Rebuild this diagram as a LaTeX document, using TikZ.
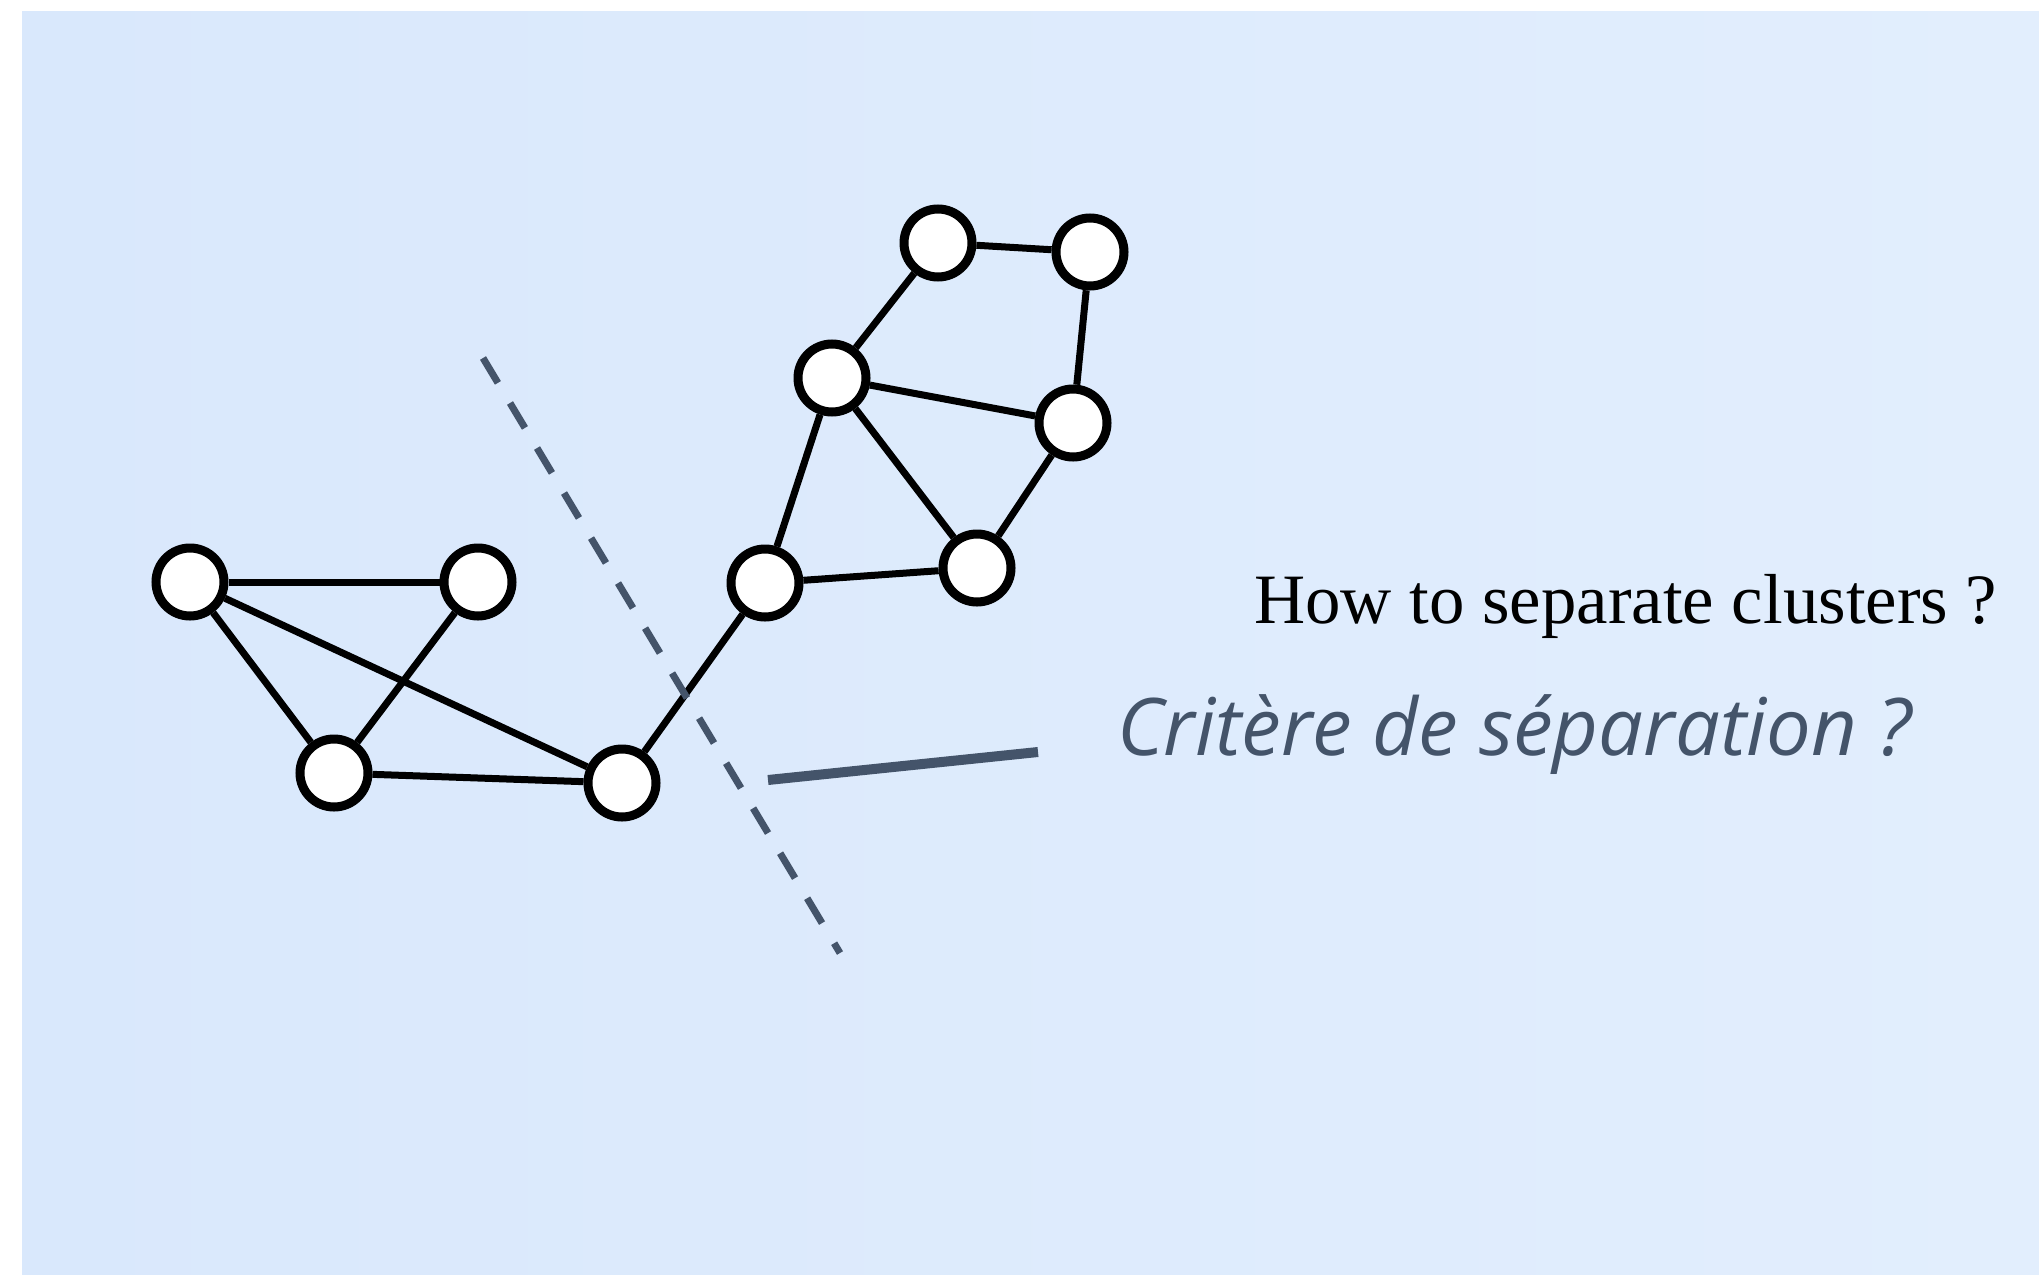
\documentclass[tikz,border=0pt]{standalone}
\usepackage{fontspec}
\newfontfamily\titlefont{Liberation Serif}
\newfontfamily\notefont{Open Sans}
\definecolor{slate}{HTML}{44546A}
\definecolor{skyleft}{HTML}{D9E8FC}
\definecolor{skyright}{HTML}{E2EEFD}
\begin{document}
\begin{tikzpicture}[x=1pt,y=-1pt,
  vertex/.style={circle,draw,line width=9pt,fill=white,minimum size=68pt,inner sep=0pt},
  link/.style={line width=7pt}]
\useasboundingbox (0,0) rectangle (2039,1274);
\shade[left color=skyleft,right color=skyright] (22,11) rectangle (2039,1274);
% first cluster
\node[vertex] (a) at (190,582) {};
\node[vertex] (b) at (478,582) {};
\node[vertex] (c) at (334,773) {};
\node[vertex] (d) at (622,783) {};
% second cluster
\node[vertex] (e) at (765,583) {};
\node[vertex] (f) at (977,568) {};
\node[vertex] (g) at (832,378) {};
\node[vertex] (h) at (1073,423) {};
\node[vertex] (i) at (938,243) {};
\node[vertex] (j) at (1090,252) {};
\foreach \u/\v in {a/b,a/c,a/d,b/c,c/d,d/e,e/g,e/f,g/i,g/h,g/f,i/j,j/h,h/f}
\draw[link] (\u) -- (\v);
%%%%
\coordinate (cuttop) at (483,358);
\coordinate (cutend) at (840,953);
\draw[slate,line width=7pt,dash pattern=on 29pt off 23.5pt] (cuttop) -- (cutend);
\coordinate (tick) at (768,780);
\coordinate (tickend) at (1038,752);
\draw[slate,line width=10pt] (tick) -- (tickend);
\node[anchor=base west,inner sep=0pt] (question) at (1254,623)
  {\titlefont\fontsize{70.8}{80}\selectfont How to separate clusters ?};
\node[anchor=base west,inner sep=0pt,text=slate] (criterion) at (1117,755)
  {\notefont\itshape\fontsize{79.5}{90}\selectfont Critère de séparation ?};
\end{tikzpicture}
\end{document}
